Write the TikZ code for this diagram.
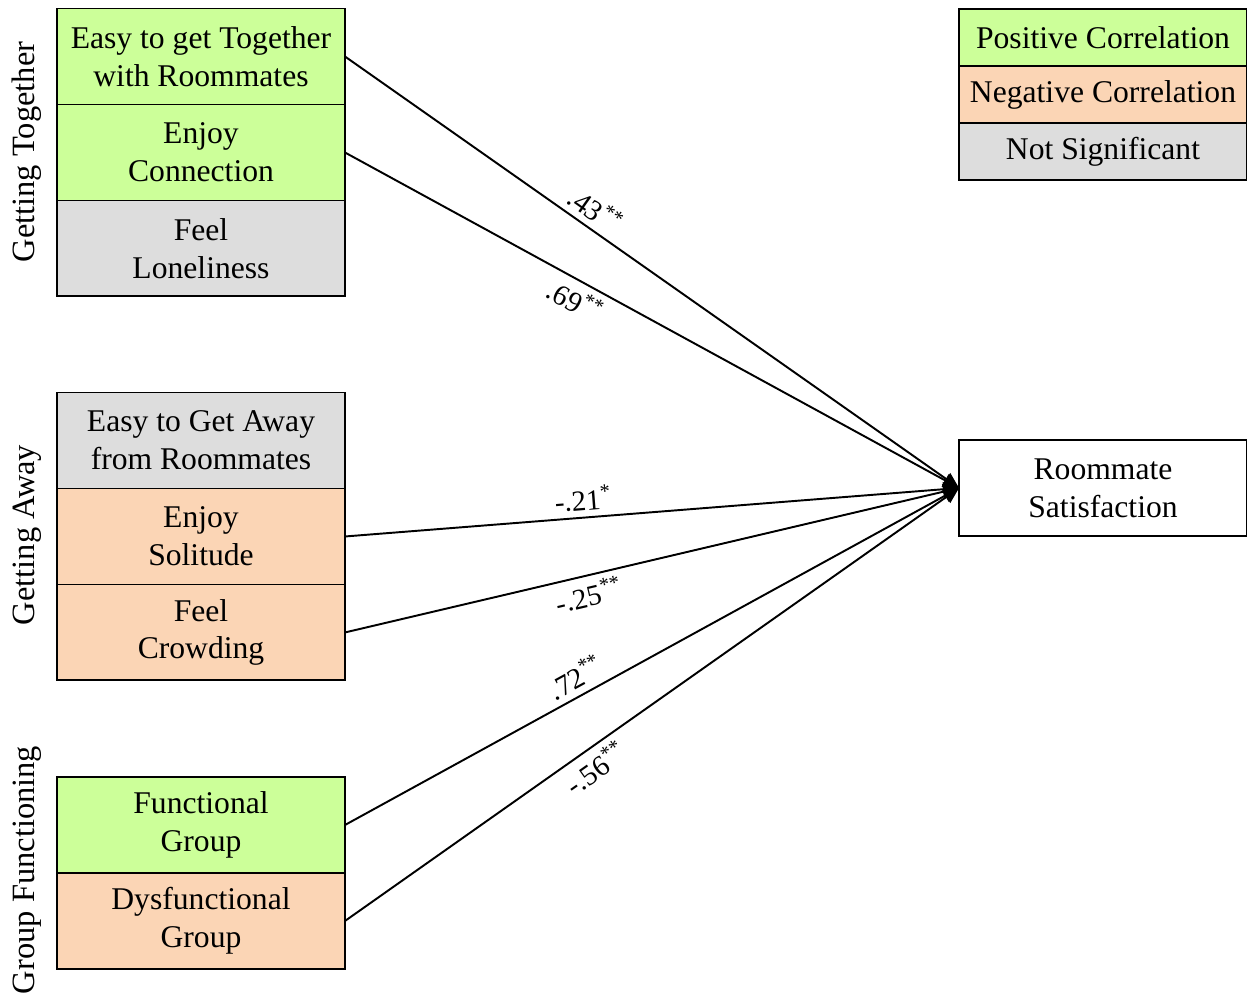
\documentclass[tikz,border=0pt]{standalone}
\usepackage{fontspec}
\setmainfont{Liberation Serif}
\usetikzlibrary{positioning,arrows.meta}
\definecolor{posgreen}{HTML}{CCFF99}
\definecolor{negorange}{HTML}{FBD5B5}
\definecolor{nsgrey}{HTML}{DDDDDD}
\tikzset{
  var/.style={draw, line width=1.1pt, minimum width=5.76cm, minimum height=1.92cm,
    inner sep=0pt, outer sep=0pt, align=center, font=\fontsize{18}{21.5}\selectfont},
  posbox/.style={var, fill=posgreen},
  negbox/.style={var, fill=negorange},
  nsbox/.style={var, fill=nsgrey},
  keybox/.style={var, minimum height=1.14cm},
  grp/.style={rotate=90, font=\fontsize{18.5}{21.5}\selectfont},
  link/.style={line width=1.1pt, -{Triangle[length=9pt,width=8pt]}},
  coef/.style={sloped, pos=0.39, font=\fontsize{16.5}{18}\selectfont}
}
\begin{document}
\begin{tikzpicture}[x=0.02cm, y=-0.02cm]
	\useasboundingbox (0,0) rectangle (1247,996);
	% getting together
	\node[posbox] (easytog) at (201,56.5) {Easy to get Together\\with Roommates};
	\node[posbox, below=0pt of easytog] (conn) {Enjoy\\Connection};
	\node[nsbox, below=0pt of conn] (lone) {Feel\\Loneliness};
	\node[grp] (gtog) at (27,152) {Getting Together};
	% getting away
	\node[nsbox] (easyaway) at (201,440.5) {Easy to Get Away\\from Roommates};
	\node[negbox, below=0pt of easyaway] (soli) {Enjoy\\Solitude};
	\node[negbox, below=0pt of soli] (crowd) {Feel\\Crowding};
	\node[grp] (gaway) at (27,535) {Getting Away};
	% group functioning
	\node[posbox] (func) at (201,825) {Functional\\Group};
	\node[negbox, below=0pt of func] (dysf) {Dysfunctional\\Group};
	\node[grp] (gfunc) at (27,870) {Group Functioning};
	% outcome
	\node[var, fill=white] (sat) at (1103,488) {Roommate\\Satisfaction};
	% legend
	\node[keybox, fill=posgreen] (kpos) at (1103,37.5) {Positive Correlation};
	\node[keybox, fill=negorange, below=0pt of kpos] (kneg) {Negative Correlation};
	\node[keybox, fill=nsgrey, below=0pt of kneg] (kns) {Not Significant};
	% paths
	\draw[link] (easytog.east) -- node[coef, above]{.43\textsuperscript{**}} (sat.west);
	\draw[link] (conn.east) -- node[coef, below]{.69\textsuperscript{**}} (sat.west);
	\draw[link] (soli.east) -- node[coef, above]{-.21\textsuperscript{*}} (sat.west);
	\draw[link] (crowd.east) -- node[coef, below]{-.25\textsuperscript{**}} (sat.west);
	\draw[link] (func.east) -- node[coef, above]{.72\textsuperscript{**}} (sat.west);
	\draw[link] (dysf.east) -- node[coef, below]{-.56\textsuperscript{**}} (sat.west);
\end{tikzpicture}
\end{document}
